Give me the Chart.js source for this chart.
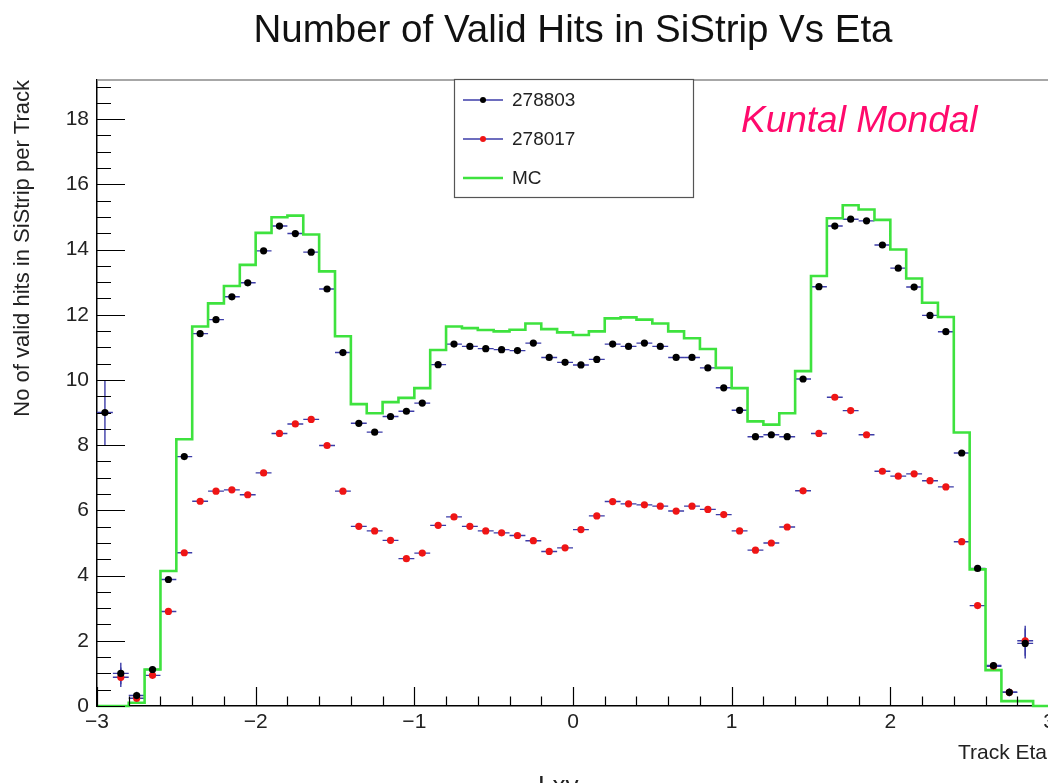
<!DOCTYPE html>
<html>
<head>
<meta charset="utf-8">
<script src="https://cdn.jsdelivr.net/npm/chart.js@4.4.1/dist/chart.umd.min.js"></script>
<style>
  html, body { margin: 0; padding: 0; background: #fff; overflow: hidden; }
  #wrap { position: relative; width: 1080px; height: 783px; }
</style>
</head>
<body>
<div id="wrap"><canvas id="c"></canvas></div>
<script>
// Track eta bin centres (bin width 0.1)
const etaBins = [
  -2.95, -2.85, -2.75, -2.65, -2.55, -2.45, -2.35, -2.25, -2.15, -2.05,
  -1.95, -1.85, -1.75, -1.65, -1.55, -1.45, -1.35, -1.25, -1.15, -1.05,
  -0.95, -0.85, -0.75, -0.65, -0.55, -0.45, -0.35, -0.25, -0.15, -0.05,
   0.05,  0.15,  0.25,  0.35,  0.45,  0.55,  0.65,  0.75,  0.85,  0.95,
   1.05,  1.15,  1.25,  1.35,  1.45,  1.55,  1.65,  1.75,  1.85,  1.95,
   2.05,  2.15,  2.25,  2.35,  2.45,  2.55,  2.65,  2.75,  2.85,  2.95
];
const binHalfWidth = 0.05;

// Run 278803: mean valid SiStrip hits per track
const hits278803 = [
  9.00, 1.00, 0.32, 1.12, 3.88, 7.65, 11.42, 11.85, 12.55, 12.98,
  13.96, 14.72, 14.49, 13.92, 12.79, 10.84, 8.67, 8.40, 8.88, 9.04,
  9.29, 10.47, 11.10, 11.03, 10.96, 10.93, 10.90, 11.13, 10.69, 10.54,
  10.46, 10.63, 11.10, 11.03, 11.13, 11.03, 10.69, 10.69, 10.37, 9.76,
  9.07, 8.26, 8.32, 8.26, 10.03, 12.86, 14.72, 14.93, 14.88, 14.14,
  13.43, 12.85, 11.98, 11.48, 7.76, 4.22, 1.24, 0.42, 1.92, null
];
const err278803 = [
  1.00, 0.33, 0.12, 0.10, 0.06, 0.05, 0.04, 0.04, 0.04, 0.04,
  0.04, 0.04, 0.04, 0.04, 0.04, 0.04, 0.04, 0.04, 0.04, 0.04,
  0.04, 0.04, 0.04, 0.04, 0.04, 0.04, 0.04, 0.04, 0.04, 0.04,
  0.04, 0.04, 0.04, 0.04, 0.04, 0.04, 0.04, 0.04, 0.04, 0.04,
  0.04, 0.04, 0.04, 0.04, 0.04, 0.04, 0.04, 0.04, 0.04, 0.04,
  0.04, 0.04, 0.04, 0.04, 0.05, 0.06, 0.10, 0.12, 0.46, 0.00
];

// Run 278017: mean valid SiStrip hits per track
const hits278017 = [
  null, 0.88, 0.24, 0.94, 2.90, 4.70, 6.28, 6.59, 6.63, 6.48,
  7.15, 8.36, 8.65, 8.79, 7.99, 6.59, 5.51, 5.37, 5.08, 4.52,
  4.69, 5.54, 5.80, 5.51, 5.37, 5.31, 5.23, 5.07, 4.74, 4.85,
  5.41, 5.83, 6.27, 6.20, 6.17, 6.13, 5.98, 6.13, 6.03, 5.87,
  5.37, 4.78, 5.00, 5.49, 6.60, 8.36, 9.47, 9.06, 8.32, 7.20,
  7.05, 7.12, 6.91, 6.72, 5.04, 3.08, 1.22, 0.42, 2.00, null
];
const err278017 = [
  0.00, 0.30, 0.12, 0.10, 0.06, 0.05, 0.04, 0.04, 0.04, 0.04,
  0.04, 0.04, 0.04, 0.04, 0.04, 0.04, 0.04, 0.04, 0.04, 0.04,
  0.04, 0.04, 0.04, 0.04, 0.04, 0.04, 0.04, 0.04, 0.04, 0.04,
  0.04, 0.04, 0.04, 0.04, 0.04, 0.04, 0.04, 0.04, 0.04, 0.04,
  0.04, 0.04, 0.04, 0.04, 0.04, 0.04, 0.04, 0.04, 0.04, 0.04,
  0.04, 0.04, 0.04, 0.04, 0.05, 0.06, 0.10, 0.12, 0.46, 0.00
];

// Simulation: mean valid SiStrip hits per track
const hitsMC = [
  0.00, 0.00, 0.10, 1.12, 4.14, 8.18, 11.64, 12.35, 12.88, 13.53,
  14.51, 14.99, 15.04, 14.46, 13.33, 11.34, 9.26, 8.98, 9.32, 9.45,
  9.75, 10.92, 11.64, 11.59, 11.53, 11.49, 11.54, 11.73, 11.56, 11.46,
  11.38, 11.49, 11.89, 11.92, 11.85, 11.73, 11.49, 11.28, 10.95, 10.37,
  9.75, 8.73, 8.63, 8.98, 10.27, 13.19, 14.96, 15.36, 15.23, 14.91,
  14.00, 13.11, 12.37, 11.93, 8.39, 4.19, 1.10, 0.15, 0.15, 0.00
];

const seriesNames = ['278803', '278017', 'MC'];
const xTickValues = [-3, -2, -1, 0, 1, 2, 3];
const yTickValues = [0, 2, 4, 6, 8, 10, 12, 14, 16, 18];

const FONT = "'Liberation Sans', Arial, sans-serif";
const ERR_COLOR = '#3c3ca8';
const MC_COLOR = '#3ee23e';
const RED = '#ef1515';

const fmt = v => (v < 0 ? '\u2212' + Math.abs(v) : String(v));

// histogram outline: one point per left bin edge plus the closing right edge
const mcSteps = hitsMC.map((v, i) => ({ x: etaBins[i] - binHalfWidth, y: v }));
mcSteps.push({ x: etaBins[etaBins.length - 1] + binHalfWidth, y: hitsMC[hitsMC.length - 1] });

const toPoints = vals => vals.map((v, i) => ({ x: etaBins[i], y: v }));

const rootStyle = {
  id: 'rootStyle',
  beforeDatasetsDraw(chart) {
    const { ctx, scales: { x, y } } = chart;
    ctx.save();
    ctx.strokeStyle = ERR_COLOR;
    ctx.lineWidth = 1.4;
    [[hits278803, err278803], [hits278017, err278017]].forEach(([vals, errs]) => {
      vals.forEach((v, i) => {
        if (v === null) return;
        const c = etaBins[i];
        const px = x.getPixelForValue(c);
        const py = y.getPixelForValue(v);
        ctx.beginPath();
        ctx.moveTo(x.getPixelForValue(c - binHalfWidth), py);
        ctx.lineTo(x.getPixelForValue(c + binHalfWidth), py);
        if (errs[i] > 0) {
          ctx.moveTo(px, y.getPixelForValue(v - errs[i]));
          ctx.lineTo(px, y.getPixelForValue(v + errs[i]));
        }
        ctx.stroke();
      });
    });
    ctx.restore();
  },
  afterDraw(chart) {
    const { ctx, chartArea: a, scales: { x, y } } = chart;
    ctx.save();

    // frame top edge
    ctx.strokeStyle = '#8a8a8a';
    ctx.lineWidth = 1.5;
    ctx.beginPath();
    ctx.moveTo(a.left, a.top);
    ctx.lineTo(a.right, a.top);
    ctx.stroke();

    // inward tick marks
    ctx.strokeStyle = '#000';
    ctx.lineWidth = 1.2;
    ctx.beginPath();
    for (let v = 0; v <= 19.01; v += 0.5) {
      const py = Math.round(y.getPixelForValue(v)) + 0.5;
      const major = yTickValues.includes(Math.round(v * 10) / 10);
      ctx.moveTo(a.left, py);
      ctx.lineTo(a.left + (major ? 28 : 14), py);
    }
    for (let k = -15; k <= 15; k++) {
      const v = k * 0.2;
      const px = Math.round(x.getPixelForValue(v)) + 0.5;
      const major = xTickValues.includes(Math.round(v * 10) / 10);
      ctx.moveTo(px, a.bottom);
      ctx.lineTo(px, a.bottom - (major ? 19 : 9.5));
    }
    ctx.stroke();

    // title
    ctx.fillStyle = '#111';
    ctx.font = `38.5px ${FONT}`;
    ctx.textAlign = 'center';
    ctx.textBaseline = 'alphabetic';
    ctx.fillText('Number of Valid Hits in SiStrip Vs Eta', 573, 42);

    // axis titles
    ctx.fillStyle = '#222';
    ctx.font = `21px ${FONT}`;
    ctx.textAlign = 'right';
    ctx.fillText('Track Eta', a.right - 2, 759);
    ctx.save();
    ctx.translate(29, a.top);
    ctx.rotate(-Math.PI / 2);
    ctx.font = `22px ${FONT}`;
    ctx.textAlign = 'right';
    ctx.fillText('No of valid hits in SiStrip per Track', 0, 0);
    ctx.restore();

    // legend
    const lx = 454, ly = 79, lw = 239, lh = 118;
    ctx.fillStyle = '#fff';
    ctx.fillRect(lx, ly, lw, lh);
    ctx.strokeStyle = '#555';
    ctx.lineWidth = 1.2;
    ctx.strokeRect(lx + 0.5, ly + 0.5, lw, lh);
    const rows = [
      { label: seriesNames[0], line: ERR_COLOR, dot: '#000' },
      { label: seriesNames[1], line: ERR_COLOR, dot: RED },
      { label: seriesNames[2], line: MC_COLOR, dot: null }
    ];
    rows.forEach((r, i) => {
      const cy = 100 + i * 39;
      ctx.strokeStyle = r.line;
      ctx.lineWidth = r.dot ? 1.4 : 2.4;
      ctx.beginPath();
      ctx.moveTo(463, cy);
      ctx.lineTo(503, cy);
      ctx.stroke();
      if (r.dot) {
        ctx.fillStyle = r.dot;
        ctx.beginPath();
        ctx.arc(483, cy, 3, 0, Math.PI * 2);
        ctx.fill();
      }
      ctx.fillStyle = '#222';
      ctx.font = `19px ${FONT}`;
      ctx.textAlign = 'left';
      ctx.textBaseline = 'middle';
      ctx.fillText(r.label, 512, cy + 1);
    });

    // author tag
    ctx.fillStyle = '#ff0a6c';
    ctx.font = `italic 37px ${FONT}`;
    ctx.textAlign = 'left';
    ctx.textBaseline = 'alphabetic';
    ctx.fillText('Kuntal Mondal', 741, 132);

    // pad label running off the bottom edge
    ctx.fillStyle = '#222';
    ctx.font = `26px ${FONT}`;
    ctx.textBaseline = 'top';
    ctx.fillText('Lxy', 538, 774);

    ctx.restore();
  }
};

new Chart(document.getElementById('c'), {
  type: 'scatter',
  data: {
    datasets: [
      {
        label: seriesNames[0],
        data: toPoints(hits278803),
        backgroundColor: '#000',
        borderColor: '#000',
        pointRadius: 3.6,
        pointBorderWidth: 0,
        showLine: false
      },
      {
        label: seriesNames[1],
        data: toPoints(hits278017),
        backgroundColor: RED,
        borderColor: RED,
        pointRadius: 3.6,
        pointBorderWidth: 0,
        showLine: false
      },
      {
        type: 'line',
        label: seriesNames[2],
        data: mcSteps,
        stepped: true,
        borderColor: MC_COLOR,
        borderWidth: 2.6,
        pointRadius: 0,
        fill: false,
        clip: false
      }
    ]
  },
  options: {
    responsive: true,
    maintainAspectRatio: false,
    animation: false,
    layout: { padding: { top: 80, right: 31, left: 0, bottom: 0 } },
    plugins: { legend: { display: false }, tooltip: { enabled: false } },
    scales: {
      x: {
        type: 'linear',
        min: -3,
        max: 3,
        grid: { display: false },
        border: { color: '#000', width: 1.5 },
        ticks: {
          stepSize: 1,
          autoSkip: false,
          maxRotation: 0,
          color: '#222',
          font: { family: FONT, size: 21 },
          padding: -4,
          callback: v => fmt(v)
        },
        afterFit: s => { s.height = 77; }
      },
      y: {
        min: 0,
        max: 19.2,
        grid: { display: false },
        border: { color: '#000', width: 1.5 },
        ticks: {
          stepSize: 2,
          includeBounds: false,
          color: '#222',
          font: { family: FONT, size: 21 },
          padding: 0,
          callback: v => fmt(v)
        },
        afterFit: s => { s.width = 97; }
      }
    }
  },
  plugins: [rootStyle]
});
</script>
</body>
</html>
